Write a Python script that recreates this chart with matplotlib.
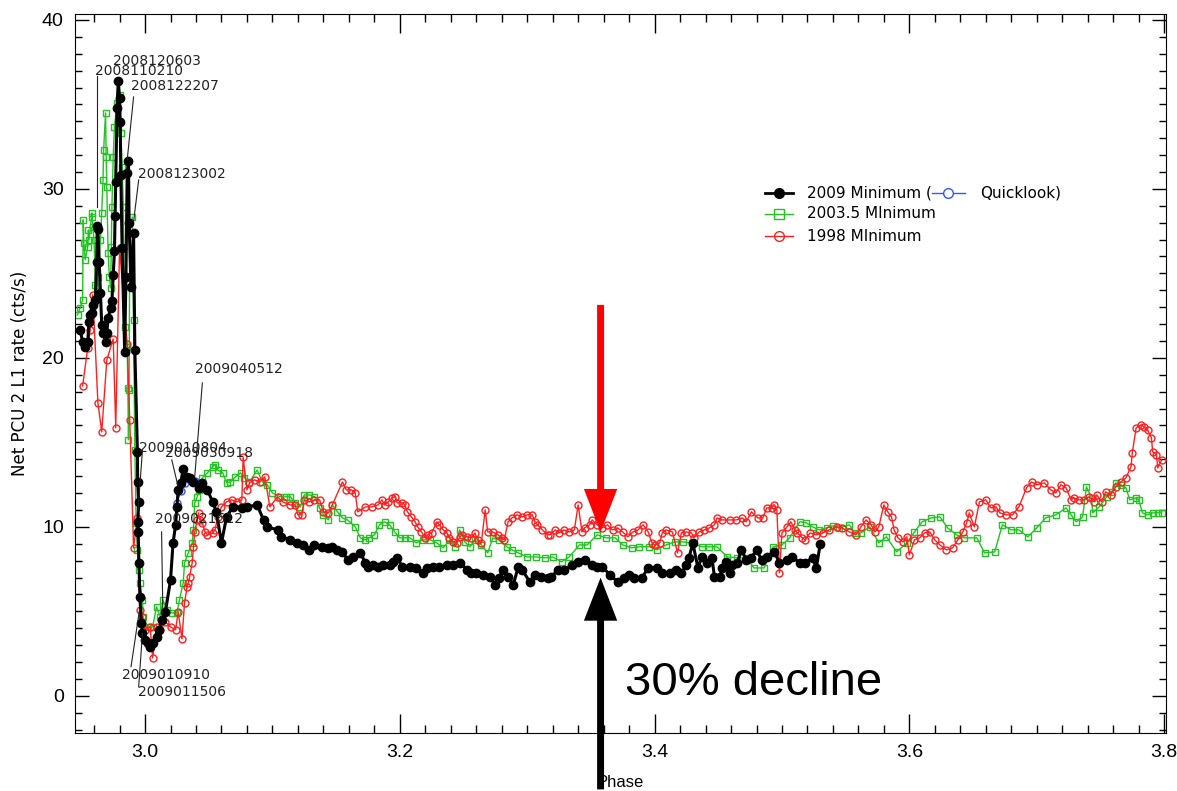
import matplotlib
matplotlib.use('Agg')
from matplotlib import pyplot as plt
from matplotlib.patches import FancyArrowPatch
from matplotlib.ticker import MultipleLocator

# 2009 minimum (black, filled circles)
phase_2009 = [2.949, 2.951, 2.953, 2.955, 2.956, 2.957, 2.958, 2.959, 2.961, 2.962,
              2.9625, 2.963, 2.964, 2.965, 2.966, 2.967, 2.969, 2.970, 2.971, 2.973,
              2.974, 2.975, 2.976, 2.9765, 2.977, 2.978, 2.979, 2.980, 2.9805, 2.981,
              2.982, 2.984, 2.985, 2.986, 2.987, 2.9875, 2.989, 2.991, 2.992, 2.994,
              2.9942, 2.995, 2.9944, 2.9946, 2.9952, 2.996, 2.997, 2.998, 3.000, 3.002,
              3.004, 3.006, 3.009, 3.011, 3.013, 3.016, 3.020, 3.022, 3.024, 3.025,
              3.026, 3.028, 3.030, 3.033, 3.035, 3.038, 3.042, 3.045, 3.049, 3.053,
              3.056, 3.060, 3.064, 3.069, 3.076, 3.080, 3.088, 3.093, 3.096, 3.104,
              3.107, 3.114, 3.119, 3.124, 3.129, 3.133, 3.139, 3.144, 3.147, 3.151,
              3.155, 3.159, 3.163, 3.169, 3.173, 3.175, 3.179, 3.183, 3.187, 3.192,
              3.195, 3.198, 3.202, 3.208, 3.213, 3.218, 3.221, 3.226, 3.231, 3.237,
              3.242, 3.247, 3.253, 3.256, 3.260, 3.265, 3.271, 3.275, 3.278, 3.281,
              3.285, 3.289, 3.293, 3.296, 3.302, 3.306, 3.311, 3.316, 3.319, 3.324,
              3.329, 3.335, 3.340, 3.345, 3.351, 3.355, 3.359, 3.365, 3.371, 3.376,
              3.380, 3.384, 3.390, 3.395, 3.402, 3.406, 3.412, 3.417, 3.421, 3.425,
              3.427, 3.430, 3.434, 3.437, 3.441, 3.445, 3.447, 3.451, 3.453, 3.456,
              3.459, 3.461, 3.465, 3.468, 3.472, 3.476, 3.480, 3.484, 3.488, 3.494,
              3.498, 3.504, 3.508, 3.514, 3.518, 3.524, 3.527, 3.530]
rate_2009 = [21.66, 20.95, 20.65, 20.95, 22.13, 22.54, 22.66, 23.14, 23.43, 25.68,
             27.81, 27.63, 25.68, 23.85, 21.95, 21.48, 20.95, 21.48, 22.37, 22.96,
             23.37, 24.91, 26.33, 28.40, 30.41, 34.79, 36.39, 35.38, 33.96, 30.83,
             26.51, 20.36, 24.79, 30.95, 31.66, 27.99, 24.20, 27.40, 20.47, 14.44,
             12.66, 11.48, 10.30, 9.70, 7.87, 5.86, 4.32, 3.73, 3.31, 3.14,
             2.90, 3.14, 3.49, 3.91, 4.50, 4.97, 6.86, 9.05, 10.12, 11.18,
             12.19, 12.60, 13.43, 12.96, 12.90, 12.66, 12.31, 12.60, 12.19, 11.48,
             10.89, 9.05, 10.59, 11.18, 11.12, 11.18, 11.30, 10.41, 10.00, 9.82,
             9.41, 9.23, 9.05, 8.93, 8.64, 8.93, 8.82, 8.76, 8.82, 8.64,
             8.52, 8.05, 8.22, 8.46, 7.87, 7.63, 7.75, 7.63, 7.75, 7.75,
             7.93, 8.17, 7.63, 7.63, 7.57, 7.28, 7.57, 7.63, 7.63, 7.75,
             7.75, 7.87, 7.46, 7.28, 7.28, 7.16, 7.04, 6.57, 6.98, 7.46,
             7.04, 6.57, 7.63, 7.46, 6.75, 7.16, 7.04, 6.98, 7.04, 7.46,
             7.46, 7.75, 7.93, 8.05, 7.75, 7.63, 7.63, 7.16, 6.75, 6.98,
             7.16, 6.98, 6.98, 7.57, 7.57, 7.28, 7.28, 7.46, 7.28, 7.75,
             8.17, 9.05, 7.57, 8.22, 7.87, 8.17, 7.04, 7.04, 7.57, 7.93,
             7.28, 7.75, 7.87, 8.64, 8.05, 8.17, 8.64, 8.05, 8.22, 8.52,
             7.87, 8.05, 8.22, 7.87, 7.87, 8.17, 7.57, 8.99]

# 2009 quicklook points (blue, open circles)
phase_quick = [3.025, 3.028, 3.031, 3.035, 3.039, 3.043]
rate_quick = [11.4, 12.1, 12.6, 12.8, 12.7, 12.5]

# 2003.5 minimum (green, open squares)
phase_2003 = [2.947, 2.949, 2.951, 2.9515, 2.952, 2.953, 2.955, 2.9555, 2.956, 2.958,
              2.9585, 2.959, 2.960, 2.961, 2.962, 2.9625, 2.963, 2.965, 2.966, 2.967,
              2.9675, 2.969, 2.9695, 2.970, 2.971, 2.972, 2.973, 2.9735, 2.974, 2.975,
              2.976, 2.978, 2.979, 2.980, 2.981, 2.982, 2.983, 2.984, 2.986, 2.9865,
              2.987, 2.9875, 2.988, 2.990, 2.991, 2.992, 2.993, 2.994, 2.995, 2.996,
              2.998, 2.9985, 3.002, 3.006, 3.009, 3.012, 3.014, 3.017, 3.021, 3.025,
              3.027, 3.030, 3.031, 3.034, 3.037, 3.038, 3.039, 3.041, 3.042, 3.043,
              3.045, 3.049, 3.053, 3.055, 3.057, 3.061, 3.064, 3.067, 3.071, 3.075,
              3.078, 3.082, 3.088, 3.092, 3.096, 3.100, 3.106, 3.111, 3.114, 3.118,
              3.122, 3.125, 3.129, 3.133, 3.137, 3.140, 3.144, 3.147, 3.151, 3.155,
              3.159, 3.165, 3.169, 3.173, 3.176, 3.180, 3.184, 3.188, 3.192, 3.196,
              3.200, 3.204, 3.208, 3.213, 3.218, 3.224, 3.229, 3.234, 3.239, 3.243,
              3.247, 3.251, 3.255, 3.259, 3.264, 3.269, 3.273, 3.278, 3.284, 3.288,
              3.293, 3.300, 3.307, 3.314, 3.320, 3.327, 3.333, 3.341, 3.347, 3.355,
              3.362, 3.369, 3.375, 3.382, 3.388, 3.396, 3.402, 3.409, 3.416, 3.422,
              3.429, 3.437, 3.443, 3.449, 3.457, 3.465, 3.472, 3.478, 3.486, 3.493,
              3.500, 3.506, 3.514, 3.519, 3.524, 3.529, 3.535, 3.540, 3.545, 3.553,
              3.557, 3.562, 3.569, 3.576, 3.582, 3.590, 3.598, 3.604, 3.610, 3.617,
              3.624, 3.630, 3.637, 3.643, 3.653, 3.659, 3.667, 3.673, 3.680, 3.686,
              3.693, 3.700, 3.707, 3.715, 3.723, 3.727, 3.731, 3.736, 3.739, 3.743,
              3.744, 3.749, 3.755, 3.759, 3.762, 3.766, 3.770, 3.773, 3.778, 3.780,
              3.783, 3.787, 3.791, 3.795, 3.798]
rate_2003 = [22.54, 22.96, 23.43, 28.17, 26.80, 25.80, 26.57, 27.57, 26.98, 28.34,
             28.58, 27.75, 26.98, 24.32, 25.62, 24.20, 24.79, 26.98, 28.58, 30.53,
             32.31, 34.50, 31.89, 30.12, 26.21, 24.79, 24.14, 26.57, 28.93, 31.89,
             33.67, 35.09, 33.49, 35.56, 33.31, 31.30, 28.93, 21.83, 20.65, 18.22,
             15.15, 18.11, 27.40, 28.34, 22.25, 14.56, 10.24, 8.64, 7.46, 6.69,
             5.68, 4.67, 4.08, 4.08, 5.27, 4.67, 5.68, 5.09, 4.91, 4.91,
             5.68, 6.69, 7.87, 8.46, 9.05, 9.82, 11.42, 11.78, 12.19, 12.60,
             12.90, 13.20, 13.55, 13.67, 13.37, 13.20, 12.60, 12.66, 12.96, 13.20,
             12.90, 12.66, 13.37, 12.66, 12.49, 12.01, 11.78, 11.78, 11.78, 11.42,
             11.18, 11.89, 11.89, 11.78, 11.12, 10.71, 10.41, 11.30, 10.89, 10.53,
             10.41, 10.00, 9.35, 9.23, 9.35, 9.53, 10.12, 10.30, 10.12, 9.70,
             9.35, 9.35, 9.35, 9.05, 9.23, 9.23, 9.05, 8.76, 9.23, 8.82,
             9.82, 9.11, 8.82, 9.23, 8.93, 8.46, 9.35, 9.23, 8.82, 8.64,
             8.46, 8.22, 8.22, 8.17, 8.22, 7.93, 8.22, 8.93, 8.93, 9.53,
             9.35, 9.35, 8.93, 8.76, 8.82, 8.82, 8.64, 8.93, 9.11, 9.11,
             9.05, 8.82, 8.82, 8.82, 8.22, 8.17, 8.17, 7.57, 7.57, 8.82,
             8.93, 9.35, 10.30, 10.24, 10.00, 9.82, 9.94, 10.06, 9.94, 10.12,
             9.64, 9.64, 10.00, 9.05, 9.41, 8.52, 9.05, 9.70, 10.30, 10.53,
             10.59, 9.94, 9.53, 9.35, 9.35, 8.46, 8.52, 10.12, 9.82, 9.82,
             9.41, 9.94, 10.53, 10.71, 11.12, 10.71, 10.30, 10.59, 12.37, 11.72,
             10.83, 11.18, 11.78, 12.07, 12.60, 12.49, 12.31, 11.60, 11.72, 11.60,
             10.83, 10.71, 10.83, 10.83, 10.83]

# 1998 minimum (red, open circles)
phase_1998 = [2.951, 2.955, 2.957, 2.959, 2.963, 2.966, 2.970, 2.975, 2.977, 2.980,
              2.986, 2.988, 2.991, 2.994, 2.996, 2.998, 3.000, 3.004, 3.006, 3.009,
              3.012, 3.016, 3.020, 3.024, 3.026, 3.029, 3.031, 3.033, 3.034, 3.035,
              3.037, 3.038, 3.039, 3.041, 3.042, 3.043, 3.045, 3.047, 3.049, 3.053,
              3.055, 3.057, 3.060, 3.064, 3.068, 3.072, 3.076, 3.077, 3.080, 3.082,
              3.086, 3.090, 3.094, 3.098, 3.104, 3.108, 3.114, 3.118, 3.120, 3.123,
              3.125, 3.129, 3.133, 3.137, 3.140, 3.144, 3.147, 3.155, 3.158, 3.162,
              3.165, 3.167, 3.173, 3.178, 3.183, 3.186, 3.188, 3.191, 3.194, 3.196,
              3.198, 3.202, 3.204, 3.206, 3.209, 3.212, 3.214, 3.217, 3.220, 3.222,
              3.225, 3.229, 3.231, 3.234, 3.237, 3.239, 3.242, 3.245, 3.247, 3.249,
              3.253, 3.256, 3.259, 3.261, 3.264, 3.267, 3.269, 3.273, 3.277, 3.280,
              3.282, 3.285, 3.288, 3.292, 3.296, 3.300, 3.304, 3.306, 3.308, 3.312,
              3.316, 3.318, 3.322, 3.325, 3.329, 3.333, 3.337, 3.340, 3.343, 3.345,
              3.349, 3.351, 3.355, 3.359, 3.363, 3.367, 3.371, 3.375, 3.379, 3.383,
              3.387, 3.391, 3.395, 3.398, 3.400, 3.404, 3.406, 3.409, 3.414, 3.418,
              3.421, 3.425, 3.429, 3.431, 3.435, 3.439, 3.443, 3.447, 3.449, 3.453,
              3.459, 3.464, 3.469, 3.472, 3.476, 3.481, 3.485, 3.488, 3.492, 3.494,
              3.496, 3.498, 3.500, 3.504, 3.507, 3.510, 3.512, 3.516, 3.518, 3.522,
              3.527, 3.532, 3.537, 3.543, 3.547, 3.553, 3.558, 3.562, 3.566, 3.570,
              3.573, 3.576, 3.580, 3.583, 3.586, 3.588, 3.591, 3.595, 3.598, 3.600,
              3.604, 3.608, 3.612, 3.616, 3.620, 3.624, 3.629, 3.634, 3.638, 3.642,
              3.645, 3.647, 3.651, 3.655, 3.660, 3.664, 3.668, 3.671, 3.676, 3.681,
              3.686, 3.692, 3.696, 3.700, 3.706, 3.711, 3.715, 3.719, 3.723, 3.727,
              3.729, 3.733, 3.737, 3.741, 3.745, 3.747, 3.751, 3.754, 3.758, 3.762,
              3.766, 3.770, 3.774, 3.775, 3.778, 3.782, 3.784, 3.787, 3.790, 3.791,
              3.794, 3.795, 3.798]
rate_1998 = [18.34, 20.59, 21.66, 23.73, 17.34, 15.62, 19.88, 21.12, 15.86, 26.51,
             20.83, 16.33, 8.76, 10.53, 5.09, 4.67, 3.91, 4.08, 2.25, 4.08,
             3.91, 4.38, 4.08, 3.91, 4.97, 3.37, 5.50, 6.45, 6.69, 7.04,
             7.87, 8.82, 9.70, 10.41, 10.83, 10.41, 10.24, 9.70, 9.53, 9.64,
             9.82, 10.59, 11.18, 11.48, 11.60, 11.48, 11.60, 14.14, 12.19, 12.60,
             12.78, 12.66, 12.96, 11.18, 11.78, 11.48, 11.30, 11.30, 10.71, 10.71,
             11.60, 11.48, 11.60, 11.60, 10.89, 10.83, 11.30, 12.66, 12.19, 12.19,
             12.01, 10.89, 11.18, 11.18, 11.30, 11.60, 11.30, 11.48, 11.72, 11.78,
             11.42, 11.42, 11.30, 10.89, 10.59, 10.30, 10.00, 9.70, 9.35, 9.53,
             9.64, 10.30, 10.12, 9.82, 9.64, 9.35, 9.11, 9.05, 9.41, 9.53,
             9.41, 9.35, 9.64, 9.23, 9.05, 11.01, 9.70, 9.70, 9.53, 9.35,
             9.23, 10.30, 10.53, 10.71, 10.59, 10.71, 10.71, 10.30, 10.12, 9.82,
             9.53, 9.53, 9.82, 9.64, 9.82, 9.70, 9.82, 11.30, 9.70, 9.94,
             10.12, 10.41, 10.12, 9.94, 10.12, 9.82, 9.94, 9.70, 9.41, 9.70,
             9.82, 10.12, 9.70, 9.05, 8.93, 9.05, 9.64, 9.82, 9.70, 8.46,
             9.64, 9.70, 9.64, 9.35, 9.70, 9.82, 9.94, 10.12, 10.53, 10.41,
             10.41, 10.41, 10.53, 10.30, 10.89, 10.53, 10.53, 11.12, 11.12, 11.30,
             11.01, 7.28, 9.64, 10.00, 10.30, 9.82, 9.64, 9.35, 9.23, 9.64,
             9.53, 9.64, 9.82, 10.00, 9.94, 9.70, 9.53, 10.00, 10.41, 10.12,
             9.70, 10.00, 11.30, 10.89, 10.59, 9.82, 9.35, 9.11, 9.41, 8.34,
             9.23, 9.35, 9.64, 9.70, 9.23, 8.93, 8.64, 8.76, 9.23, 9.70,
             10.24, 10.83, 10.00, 11.48, 11.60, 11.12, 11.18, 10.83, 10.71, 10.71,
             11.18, 12.31, 12.66, 12.49, 12.60, 12.19, 12.01, 12.49, 12.31, 11.60,
             11.72, 11.60, 11.60, 11.78, 11.48, 11.89, 11.48, 12.07, 11.89, 12.37,
             12.66, 12.90, 13.55, 14.38, 15.86, 16.04, 15.92, 15.74, 15.27, 14.44,
             14.26, 13.49, 13.96]

# date labels: text, text anchor (phase, rate), leader line start and end
date_labels = ['2008120603', '2008110210', '2008122207', '2008123002', '2009040512',
               '2009010804', '2009030918', '2009021612', '2009010910', '2009011506']
label_xy = [(2.975, 37.57), (2.961, 36.98), (2.989, 36.09), (2.9945, 30.89), (3.039, 19.35),
            (2.995, 14.67), (3.016, 14.38), (3.008, 10.47), (2.982, 1.24), (2.9945, 0.24)]
leader_lines = [None,
                ((2.962, 36.69), (2.962, 28.93)),
                ((2.991, 35.44), (2.986, 31.72)),
                ((2.995, 30.53), (2.991, 28.05)),
                ((3.045, 18.52), (3.039, 12.96)),
                ((2.998, 14.56), (2.9945, 11.0)),
                ((3.021, 13.96), (3.026, 12.37)),
                ((3.013, 9.70), (3.014, 4.91)),
                ((2.989, 1.72), (2.996, 5.27)),
                ((2.995, 0.53), (2.998, 3.73))]

narrow = ['Liberation Sans Narrow', 'Liberation Sans', 'DejaVu Sans']

fig = plt.figure(figsize=(11.77, 7.91), dpi=100)
ax = fig.add_axes([0.0637, 0.0733, 0.927, 0.909])

green = '#22c322'
red = '#ff1f1f'

ax.plot(phase_2003, rate_2003, '-s', color=green, lw=1.0, ms=5, mfc='none', mew=1.0, zorder=2)
ax.plot(phase_1998, rate_1998, '-o', color=red, lw=1.0, ms=5, mfc='none', mew=1.0, zorder=3)
ax.plot(phase_quick, rate_quick, '-o', color='#3355ff', lw=1.0, ms=5, mfc='none', zorder=3.5)
ax.plot(phase_2009, rate_2009, '-o', color='black', lw=2.2, ms=6, zorder=4)

for txt, (tx, ty), seg in zip(date_labels, label_xy, leader_lines):
    ax.text(tx, ty, txt, fontsize=10, va='center', ha='left', color='#222222', zorder=6)
    if seg is not None:
        ax.plot([seg[0][0], seg[1][0]], [seg[0][1], seg[1][1]], color='#222222', lw=0.8, zorder=6)

# legend drawn by hand so the quicklook entry sits on the same row
legend_rows = [0.751, 0.722, 0.691]
ax.plot([0.632, 0.658], [legend_rows[0]] * 2, color='black', lw=2.0, transform=ax.transAxes)
ax.plot([0.645], [legend_rows[0]], 'o', color='black', ms=7, transform=ax.transAxes)
ax.plot([0.632, 0.658], [legend_rows[1]] * 2, color=green, lw=1.0, transform=ax.transAxes)
ax.plot([0.645], [legend_rows[1]], 's', color=green, ms=7, mfc='none', transform=ax.transAxes)
ax.plot([0.632, 0.658], [legend_rows[2]] * 2, color=red, lw=1.0, transform=ax.transAxes)
ax.plot([0.645], [legend_rows[2]], 'o', color=red, ms=7, mfc='none', transform=ax.transAxes)
ax.plot([0.7855, 0.8158], [legend_rows[0]] * 2, color='#3355ff', lw=1.0, transform=ax.transAxes)
ax.plot([0.800], [legend_rows[0]], 'o', color='#3355ff', ms=7, mfc='white', transform=ax.transAxes)
ax.text(0.671, legend_rows[0], '2009 Minimum (', fontsize=11, va='center', transform=ax.transAxes)
ax.text(0.8295, legend_rows[0], 'Quicklook)', fontsize=11, va='center', transform=ax.transAxes)
ax.text(0.671, legend_rows[1], '2003.5 MInimum', fontsize=11, va='center', transform=ax.transAxes)
ax.text(0.671, legend_rows[2], '1998 MInimum', fontsize=11, va='center', transform=ax.transAxes)

# arrows marking the drop between the minima
arrow_phase = 3.3576
red_arrow = FancyArrowPatch((arrow_phase, 23.3), (arrow_phase, 9.53),
                            arrowstyle='simple,head_length=3.1,head_width=2.4,tail_width=0.5',
                            mutation_scale=10, color='red', lw=0, zorder=7)
black_arrow = FancyArrowPatch((arrow_phase, -5.7), (arrow_phase, 7.16),
                              arrowstyle='simple,head_length=3.1,head_width=2.4,tail_width=0.5',
                              mutation_scale=10, color='black', lw=0, zorder=7, clip_on=False)
ax.add_patch(red_arrow)
ax.add_patch(black_arrow)
ax.text(3.3765, 0.75, '30% decline', fontsize=34, family='Liberation Sans', va='center', ha='left')

ax.set_xlim(2.945, 3.8015)
ax.set_ylim(-2.2, 40.35)
ax.set_xticks([3.0, 3.2, 3.4, 3.6, 3.8])
ax.set_xticklabels(['3.0', '3.2', '3.4', '3.6', '3.8'])
ax.set_yticks([0, 10, 20, 30, 40])
ax.xaxis.set_minor_locator(MultipleLocator(0.02))
ax.yaxis.set_minor_locator(MultipleLocator(1))
ax.tick_params(which='both', direction='in', top=True, right=True, labelsize=14, pad=8)
ax.tick_params(axis='x', which='major', length=14, width=1)
ax.tick_params(axis='x', which='minor', length=6, width=1)
ax.tick_params(axis='y', which='major', length=10, width=1)
ax.tick_params(axis='y', which='minor', length=5, width=1)
for lab in ax.get_xticklabels() + ax.get_yticklabels():
    lab.set_family(narrow)

ax.set_xlabel('Phase', fontsize=12, family=narrow, labelpad=10)
ax.set_ylabel('Net PCU 2 L1 rate (cts/s)', fontsize=12, labelpad=9)

fig.savefig('out.png', dpi=100)
